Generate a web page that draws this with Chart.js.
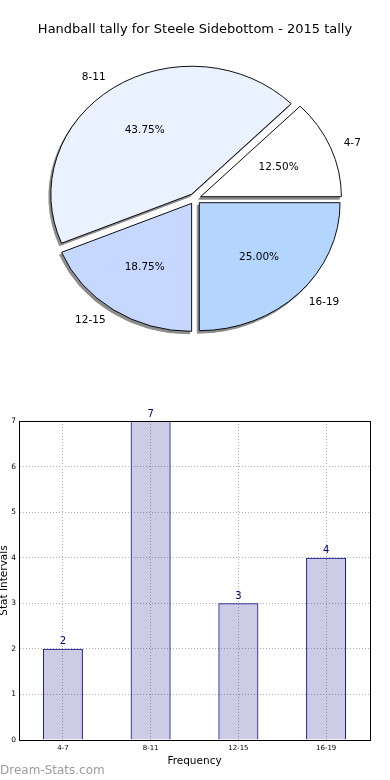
<!DOCTYPE html>
<html>
<head>
<meta charset="utf-8">
<script src="https://cdn.jsdelivr.net/npm/chart.js@4"></script>
<style>
  html, body { margin:0; padding:0; background:#fff; }
  #wrap { position:relative; width:390px; height:780px; overflow:hidden; }
  #pie { position:absolute; left:0; top:0; }
  #bar { position:absolute; left:0; top:390px; }
  #mark { position:absolute; left:0; top:763px; font:12px "DejaVu Sans", sans-serif; color:#9c9c9c; }
</style>
</head>
<body>
<div id="wrap">
  <canvas id="pie" width="390" height="390"></canvas>
  <canvas id="bar" width="390" height="390"></canvas>
  <div id="mark">Dream-Stats.com</div>
</div>
<script>
// data
const categories = ['4-7', '8-11', '12-15', '16-19'];
const counts = [2, 7, 3, 4];
const yTicks = [0, 1, 2, 3, 4, 5, 6, 7];
const pieColors = ['#ffffff', '#eaf1ff', '#c6d8ff', '#b3d5ff'];

const FONT = '"DejaVu Sans", sans-serif';
const stretchX = 1.1;   // the reference pie is a bit wider than tall
const explode = 5.5;    // px each slice is pushed out
const shadowGray = '#8c8c8c';

// pie: flipped so slices run counter-clockwise from 3 o'clock, stretched, shadowed
function drawSlice(ctx, el, dx, dy, colors) {
  const mid = (el.startAngle + el.endAngle) / 2;
  const target = colors
    ? Object.assign(Object.create(el), { options: Object.assign({}, el.options, colors) })
    : el;
  ctx.save();
  ctx.translate(el.x + dx, el.y + dy);
  ctx.scale(stretchX, -1);
  ctx.translate(Math.cos(mid) * explode, Math.sin(mid) * explode);
  ctx.translate(-el.x, -el.y);
  Chart.ArcElement.prototype.draw.call(target, ctx);
  ctx.restore();
}

const pieLook = {
  id: 'pieLook',
  beforeDatasetsDraw(chart) {
    const ctx = chart.ctx;
    const meta = chart.getDatasetMeta(0);
    const total = counts.reduce((a, b) => a + b, 0);
    meta.data.forEach(el => drawSlice(ctx, el, -2, 2.5, { backgroundColor: shadowGray, borderColor: shadowGray }));
    meta.data.forEach(el => drawSlice(ctx, el, 0, 0, null));
    // labels
    ctx.save();
    ctx.fillStyle = '#000';
    ctx.font = '10.5px ' + FONT;
    ctx.textBaseline = 'middle';
    meta.data.forEach((el, i) => {
      const mid = (el.startAngle + el.endAngle) / 2;
      const r = el.outerRadius;
      const at = k => [el.x + Math.cos(mid) * (k * r + explode) * stretchX,
                       el.y - Math.sin(mid) * (k * r + explode)];
      let [x, y] = at(1.1);
      ctx.textAlign = Math.cos(mid) > 0 ? 'left' : 'right';
      ctx.fillText(categories[i], x, y);
      [x, y] = at(0.6);
      ctx.textAlign = 'center';
      ctx.fillText((counts[i] / total * 100).toFixed(2) + '%', x, y);
    });
    ctx.restore();
    return false;
  }
};

new Chart(document.getElementById('pie'), {
  type: 'pie',
  data: {
    labels: categories,
    datasets: [{
      data: counts,
      backgroundColor: pieColors,
      borderColor: '#000',
      borderWidth: 0.9
    }]
  },
  options: {
    responsive: false,
    animation: false,
    rotation: 90,
    radius: 128,
    layout: { padding: { bottom: 40 } },
    plugins: {
      legend: { display: false },
      tooltip: { enabled: false },
      title: {
        display: true,
        text: 'Handball tally for Steele Sidebottom - 2015 tally',
        color: '#000',
        font: { family: FONT, size: 13, weight: 'normal' },
        padding: { top: 22, bottom: 10 }
      }
    }
  },
  plugins: [pieLook]
});

// bar: closed frame and value labels above bars
const barLook = {
  id: 'barLook',
  afterDatasetsDraw(chart) {
    const ctx = chart.ctx;
    const a = chart.chartArea;
    ctx.save();
    ctx.strokeStyle = '#000';
    ctx.lineWidth = 1;
    ctx.strokeRect(a.left + 0.5, a.top + 0.5, a.right - a.left, a.bottom - a.top);
    ctx.fillStyle = '#000080';
    ctx.font = '10px ' + FONT;
    ctx.textAlign = 'center';
    ctx.textBaseline = 'bottom';
    chart.getDatasetMeta(0).data.forEach((bar, i) => {
      ctx.fillText(String(counts[i]), bar.x, bar.y - 2);
    });
    ctx.restore();
  }
};

new Chart(document.getElementById('bar'), {
  type: 'bar',
  data: {
    labels: categories,
    datasets: [{
      data: counts,
      backgroundColor: 'rgba(0,0,128,0.2)',
      borderColor: '#000080',
      borderWidth: 1,
      barPercentage: 0.456,
      categoryPercentage: 1
    }]
  },
  options: {
    responsive: false,
    animation: false,
    layout: { padding: { top: 31, right: 20, left: 0, bottom: 0 } },
    plugins: { legend: { display: false }, tooltip: { enabled: false } },
    scales: {
      x: {
        afterFit: s => { s.height = 40; },
        grid: { offset: false, color: '#b0b0b0', drawTicks: false },
        border: { color: '#000', dash: [1, 2] },
        ticks: { color: '#000', font: { family: FONT, size: 7 }, padding: 4 },
        title: {
          display: true, text: 'Frequency', color: '#000',
          font: { family: FONT, size: 10.5 }, padding: { top: 0, bottom: 12 }
        }
      },
      y: {
        min: 0, max: 7,
        afterFit: s => { s.width = 19; },
        afterBuildTicks: s => { s.ticks = yTicks.map(v => ({ value: v })); },
        grid: { color: '#b0b0b0', drawTicks: false },
        border: { color: '#000', dash: [1, 2] },
        ticks: { color: '#000', font: { family: FONT, size: 7.5 }, padding: 3 },
        title: {
          display: true, text: 'Stat Intervals', color: '#000',
          font: { family: FONT, size: 10.5, lineHeight: 0.8 }, padding: 0
        }
      }
    }
  },
  plugins: [barLook]
});
</script>
</body>
</html>
